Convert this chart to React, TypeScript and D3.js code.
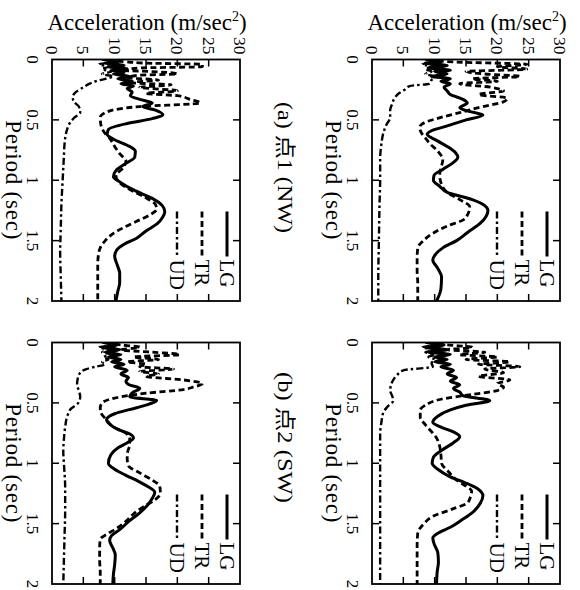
import React from 'react';
import * as d3 from 'd3';

// ---------- data ----------
const periodTicks = [0, 0.5, 1, 1.5, 2];
const periodTickLabels = ['0', '0.5', '1', '1.5', '2'];
const accelTicks = [0, 5, 10, 15, 20, 25, 30];
const seriesNames = ['LG', 'TR', 'UD'];
const panelTitles = ['(a) 点1 (NW)', '(b) 点2 (SW)'];

type Pt = [number, number]; // [period (sec), acceleration (m/sec^2)]

// top-left panel
const tlLG: Pt[] = [[0,9],[0.02,10.5],[0.03,8.5],[0.05,11.5],[0.06,9],[0.08,12],[0.09,9.5],[0.11,11.5],[0.12,9.8],[0.14,12.5],[0.16,10.5],[0.18,12.8],[0.2,11],[0.22,13],[0.24,12],[0.27,12.8],[0.3,12.5],[0.33,14],[0.36,16],[0.39,14.5],[0.42,16.5],[0.46,17.7],[0.49,16],[0.53,12],[0.58,9],[0.62,8.8],[0.66,9.8],[0.71,12],[0.76,13.3],[0.81,13.2],[0.86,11.8],[0.92,10.2],[0.97,9.8],[1.02,11],[1.08,13],[1.15,16],[1.21,17.6],[1.26,18],[1.31,17.6],[1.36,16.8],[1.42,15],[1.48,13.5],[1.53,11.5],[1.58,10.3],[1.63,10],[1.7,10.4],[1.77,10.8],[1.85,10.8],[1.92,10.5],[2,10.2]];
const tlTR: Pt[] = [[0,9],[0.02,12],[0.03,15],[0.04,24],[0.06,24],[0.07,14],[0.09,11],[0.1,16],[0.12,20],[0.13,14],[0.15,12],[0.17,17],[0.19,12],[0.21,19],[0.23,14],[0.26,20],[0.28,15],[0.3,20],[0.33,22],[0.36,23.7],[0.39,14],[0.43,9],[0.48,7.7],[0.54,7.8],[0.6,8.3],[0.66,9.3],[0.72,10],[0.78,10.8],[0.84,11.8],[0.9,11.3],[0.96,10.2],[1.02,10.8],[1.08,12.5],[1.14,14.8],[1.2,16.5],[1.24,16.7],[1.29,15.5],[1.34,13.5],[1.39,11.5],[1.44,9.8],[1.5,8.5],[1.56,7.7],[1.62,7.4],[1.7,7.3],[1.8,7.3],[1.9,7.3],[2,7.3]];
const tlUD: Pt[] = [[0,8],[0.02,9.5],[0.04,7.5],[0.06,9],[0.08,8],[0.1,9.5],[0.12,8],[0.14,9.8],[0.16,8.5],[0.18,7],[0.2,6],[0.23,5],[0.27,3.8],[0.31,3.3],[0.35,3.5],[0.39,4.3],[0.44,4.5],[0.48,3.6],[0.53,2.8],[0.6,2.3],[0.7,2],[0.8,1.9],[0.9,1.8],[1,1.7],[1.2,1.5],[1.4,1.4],[1.6,1.3],[1.8,1.4],[2,1.5]];

// top-right panel
const trLG: Pt[] = [[0,9],[0.02,11],[0.03,8.5],[0.05,12],[0.07,9],[0.09,12.5],[0.1,10],[0.12,12],[0.14,9.5],[0.16,12.5],[0.18,11],[0.2,12.5],[0.23,11.5],[0.26,12],[0.29,12.5],[0.33,14.5],[0.36,15.2],[0.4,14],[0.43,15.5],[0.46,17.7],[0.5,15],[0.55,12],[0.59,9.5],[0.62,8.8],[0.67,10.3],[0.72,12],[0.77,13.3],[0.81,13.7],[0.86,12.8],[0.91,11.3],[0.96,9.9],[1,9.8],[1.05,10.8],[1.1,12],[1.16,16],[1.21,18],[1.25,18.5],[1.3,18.2],[1.36,17.2],[1.43,15.3],[1.5,13.5],[1.56,11.3],[1.61,10.2],[1.66,9.7],[1.73,10.5],[1.8,11.1],[1.9,11],[2,10.3]];
const trTR: Pt[] = [[0,9],[0.02,13],[0.04,24.7],[0.06,20],[0.08,24.7],[0.1,15],[0.12,18],[0.14,23.6],[0.16,16],[0.18,20],[0.2,14],[0.23,19],[0.26,21],[0.29,17],[0.32,21.6],[0.35,21],[0.39,17.7],[0.44,14],[0.48,11],[0.52,8.5],[0.56,7.6],[0.6,7.8],[0.65,8.5],[0.7,9.3],[0.76,10.5],[0.83,11.3],[0.9,11],[0.96,10.8],[1.02,11],[1.1,12],[1.16,14],[1.22,15.6],[1.28,15.3],[1.33,14.5],[1.38,12],[1.44,9.7],[1.5,8.2],[1.56,7.3],[1.65,7.2],[1.75,7.2],[1.85,7.3],[2,7.3]];
const trUD: Pt[] = [[0,8.5],[0.02,10],[0.04,8],[0.06,10],[0.08,8.5],[0.1,9.5],[0.12,8.5],[0.14,10],[0.17,9.5],[0.2,9.2],[0.22,6],[0.25,5.2],[0.28,4.3],[0.32,3.6],[0.37,3.2],[0.42,2.9],[0.48,2.9],[0.54,2.3],[0.61,1.8],[0.7,1.5],[0.83,1.3],[1,1.3],[1.2,1.2],[1.5,1.1],[1.8,1.0],[2,1.0]];

// bottom-left panel
const blLG: Pt[] = [[0,8.5],[0.02,10.5],[0.04,8],[0.06,10.8],[0.08,8.5],[0.1,11],[0.12,9],[0.14,11],[0.16,9.5],[0.18,11.5],[0.2,10],[0.23,12],[0.26,11],[0.29,12.2],[0.32,11.8],[0.35,12.3],[0.38,14],[0.41,13],[0.45,12.4],[0.48,16.7],[0.51,15.5],[0.54,13.5],[0.59,10],[0.64,8.7],[0.68,9.3],[0.72,10.5],[0.76,12.5],[0.79,13],[0.83,12],[0.87,10.6],[0.93,9.4],[1,9],[1.05,10],[1.1,11.8],[1.15,13.8],[1.19,15.2],[1.24,16.4],[1.29,16],[1.35,15.2],[1.41,14],[1.48,12.3],[1.55,10.8],[1.6,9.5],[1.64,9.2],[1.7,9.7],[1.76,10.1],[1.84,10],[1.92,9.8],[2,9.7]];
const blTR: Pt[] = [[0,8.5],[0.02,11],[0.04,14],[0.06,11],[0.08,16],[0.1,20.4],[0.12,13],[0.14,17],[0.16,12],[0.18,15],[0.2,14],[0.22,19.4],[0.24,14],[0.26,17],[0.28,15],[0.31,21],[0.34,24],[0.37,22.5],[0.39,21],[0.42,15],[0.46,10],[0.5,8],[0.54,7.7],[0.58,7.8],[0.64,8.7],[0.7,9.8],[0.75,11.8],[0.8,12.4],[0.85,12.4],[0.9,12.1],[0.96,12],[1.02,12.2],[1.08,14],[1.14,16],[1.19,17.2],[1.25,17.3],[1.3,16.5],[1.36,14.6],[1.42,13],[1.48,11.8],[1.54,10.3],[1.58,9],[1.63,7.7],[1.7,7.6],[1.8,7.6],[1.9,7.7],[2,7.7]];
const blUD: Pt[] = [[0,8],[0.02,9.5],[0.04,7.5],[0.06,9.3],[0.08,8],[0.1,9.4],[0.12,8.2],[0.14,9],[0.16,8],[0.18,8.5],[0.2,7],[0.22,5.5],[0.25,4.5],[0.3,4.1],[0.35,4],[0.4,4.3],[0.45,4.5],[0.5,4.2],[0.55,3],[0.6,2.5],[0.7,2.1],[0.8,1.9],[0.9,1.8],[1,1.9],[1.2,2.1],[1.4,2.1],[1.6,2],[1.8,1.9],[2,1.8]];

// bottom-right panel
const brLG: Pt[] = [[0,9],[0.02,11.5],[0.04,8.5],[0.06,12],[0.08,9],[0.1,12.5],[0.12,10],[0.14,12],[0.16,10],[0.18,12.5],[0.2,11],[0.23,13],[0.26,12],[0.29,13.5],[0.32,12.5],[0.35,14],[0.38,13],[0.41,14],[0.44,14.5],[0.48,18.8],[0.52,15],[0.56,12.4],[0.61,10.5],[0.66,9.7],[0.7,11],[0.74,13],[0.78,14],[0.83,13],[0.89,11.2],[0.95,9.8],[1,9.6],[1.05,10.5],[1.11,12.4],[1.16,14.8],[1.21,16.8],[1.27,17.7],[1.33,17.3],[1.4,16.2],[1.47,14.3],[1.53,12.5],[1.58,10.5],[1.62,9.7],[1.68,10],[1.74,10.5],[1.82,10.6],[1.9,10.4],[2,10.3]];
const brTR: Pt[] = [[0,9],[0.02,12],[0.04,16],[0.06,12],[0.08,18],[0.1,14],[0.12,20],[0.14,15],[0.16,22],[0.18,17],[0.2,23.6],[0.22,18],[0.25,21],[0.28,17],[0.31,22],[0.34,20],[0.37,21],[0.4,19.8],[0.43,16],[0.47,11],[0.52,8.5],[0.56,7.7],[0.62,7.7],[0.68,8.5],[0.75,9.7],[0.8,10.4],[0.86,10.8],[0.93,11],[1,11.1],[1.07,12.2],[1.14,13.5],[1.19,15],[1.23,15.9],[1.28,15.7],[1.33,15.2],[1.38,12.8],[1.44,9.7],[1.5,8.3],[1.58,7.3],[1.68,7.2],[1.8,7.2],[1.9,7.2],[2,7.2]];
const brUD: Pt[] = [[0,8.5],[0.02,10],[0.04,8],[0.06,10.5],[0.08,8.5],[0.1,10],[0.12,9],[0.14,10],[0.17,9.5],[0.2,9.7],[0.23,5],[0.27,4],[0.31,3.4],[0.36,3],[0.4,2.9],[0.44,3.2],[0.48,3.4],[0.53,2.5],[0.58,1.8],[0.66,1.5],[0.75,1.3],[1,1.3],[1.3,1.3],[1.6,1.3],[2,1.3]];

// ---------- layout / style ----------
const W = 580, H = 590;
const FONT = "'Liberation Serif', 'Times New Roman', 'Noto Sans CJK JP', serif";
const PW = 188;
const PH = 241.5;
const styles = [
  { dash: undefined as string | undefined, width: 3 },
  { dash: '6,3.5', width: 2.8 },
  { dash: '7,3,2.5,3', width: 2.4 },
];

const panels = [
  { left: 52, top: 59.5, series: [tlLG, tlTR, tlUD], accelLabels: true },
  { left: 372, top: 59.5, series: [trLG, trTR, trUD], accelLabels: true },
  { left: 52, top: 342.5, series: [blLG, blTR, blUD], accelLabels: false },
  { left: 372, top: 342.5, series: [brLG, brTR, brUD], accelLabels: false },
];

const titlePos = [
  { x: 278, y: 167.5 },
  { x: 278, y: 437.5 },
];

function RText(props: { x: number; y: number; anchor?: string; dy?: string; size: number; children: React.ReactNode; textLength?: number; ls?: number }) {
  const { x, y, anchor = 'middle', dy = '0', size, children, textLength, ls } = props;
  return (
    <text
      transform={`translate(${x},${y}) rotate(90)`}
      textAnchor={anchor}
      dy={dy}
      fontSize={size}
      fontFamily={FONT}
      fill="#000"
      textLength={textLength}
      lengthAdjust={textLength ? 'spacingAndGlyphs' : undefined}
      letterSpacing={ls}
    >
      {children}
    </text>
  );
}

function Panel({ left, top, series, accelLabels }: { left: number; top: number; series: Pt[][]; accelLabels: boolean }) {
  const x = d3.scaleLinear().domain([0, 30]).range([left, left + PW]);
  const y = d3.scaleLinear().domain([0, 2]).range([top, top + PH]);
  const line = d3
    .line<Pt>()
    .x((d) => x(d[1]))
    .y((d) => y(d[0]))
    .curve(d3.curveMonotoneY);
  const tk = 7;
  const clipId = `clip-${left}-${Math.round(top)}`;
  return (
    <g>
      <defs>
        <clipPath id={clipId}>
          <rect x={left} y={top} width={PW} height={PH} />
        </clipPath>
      </defs>
      <g clipPath={`url(#${clipId})`}>
        {series.map((s, i) => (
          <path
            key={i}
            d={line(s) || ''}
            fill="none"
            stroke="#000"
            strokeWidth={styles[i].width}
            strokeDasharray={styles[i].dash}
            strokeLinejoin="round"
          />
        ))}
      </g>
      <rect x={left} y={top} width={PW} height={PH} fill="none" stroke="#000" strokeWidth={1.8} />
      {accelTicks.slice(1, -1).map((t) => (
        <g key={`a${t}`}>
          <line x1={x(t)} x2={x(t)} y1={top} y2={top + tk} stroke="#000" strokeWidth={1.5} />
          <line x1={x(t)} x2={x(t)} y1={top + PH} y2={top + PH - tk} stroke="#000" strokeWidth={1.5} />
        </g>
      ))}
      {periodTicks.slice(1, -1).map((t) => (
        <g key={`p${t}`}>
          <line x1={left} x2={left + tk} y1={y(t)} y2={y(t)} stroke="#000" strokeWidth={1.5} />
          <line x1={left + PW} x2={left + PW - tk} y1={y(t)} y2={y(t)} stroke="#000" strokeWidth={1.5} />
        </g>
      ))}
      {periodTicks.map((t, i) => (
        <RText key={`pl${t}`} x={left - 25} y={y(t)} size={17}>
          {periodTickLabels[i]}
        </RText>
      ))}
      {accelLabels &&
        accelTicks.map((t) => (
          <RText key={`al${t}`} x={x(t)} y={top - 5} anchor="end" dy="0.35em" size={17.5}>
            {String(t)}
          </RText>
        ))}
      {accelLabels && (
        <text x={left + PW / 2 + 1} y={30} textAnchor="middle" fontSize={23} fontFamily={FONT} fill="#000">
          Acceleration (m/sec
          <tspan fontSize={14} dy={-9}>2</tspan>
          <tspan dy={9}>)</tspan>
        </text>
      )}
      <RText x={left - 46} y={top + PH / 2} size={23} ls={0.8}>
        Period (sec)
      </RText>
      {seriesNames.map((n, i) => {
        const lx = left + 175 - i * 25;
        return (
          <g key={n}>
            <line
              x1={lx}
              x2={lx}
              y1={top + 152}
              y2={top + 197}
              stroke="#000"
              strokeWidth={styles[i].width}
              strokeDasharray={styles[i].dash}
            />
            <RText x={lx} y={top + 200} anchor="start" dy="0.35em" size={21}>
              {n}
            </RText>
          </g>
        );
      })}
    </g>
  );
}

export default function App() {
  return (
    <svg width={W} height={H} style={{ position: 'absolute', left: 0, top: 0, background: '#fff' }}>
      <rect x={0} y={0} width={W} height={H} fill="#fff" />
      {panels.map((p, i) => (
        <Panel key={i} {...p} />
      ))}
      {panelTitles.map((t, i) => (
        <RText key={t} x={titlePos[i].x} y={titlePos[i].y} size={21} textLength={131}>
          {t}
        </RText>
      ))}
    </svg>
  );
}
